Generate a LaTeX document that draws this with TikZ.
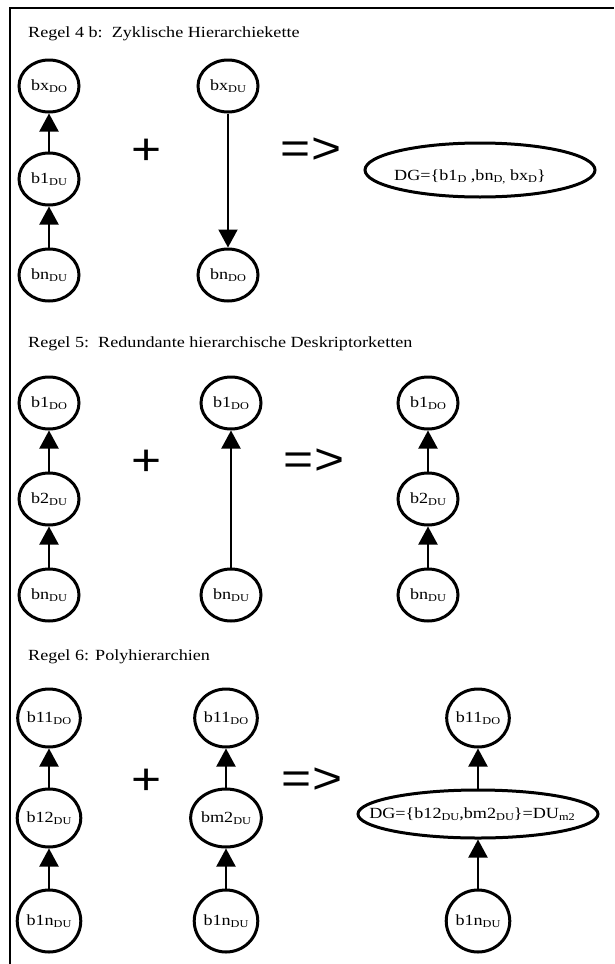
\documentclass[tikz,border=0pt]{standalone}
\usepackage{fontspec}
\setmainfont{Liberation Serif}[FakeStretch=1.17]
\newfontfamily\arialf{Liberation Sans}[FakeStretch=1.17]
\usetikzlibrary{arrows.meta,shapes.geometric}
\newcommand{\sbx}[1]{\raisebox{-2.5pt}{\fontsize{10.5}{10.5}\selectfont #1}}
\begin{document}
\begin{tikzpicture}[x=1pt,y=-1pt,
  nd/.style={draw, ellipse, line width=3pt, minimum width=60pt, minimum height=52pt, inner sep=0pt, font=\fontsize{15.5}{15.5}\selectfont},
  ndb/.style={nd, minimum width=58pt, minimum height=58pt},
  ndt/.style={nd, minimum width=58pt, minimum height=62pt},
  ell/.style={draw, ellipse, line width=3pt, inner sep=0pt},
  etxt/.style={inner sep=0pt, font=\fontsize{15.5}{15.5}\selectfont},
  arr/.style={line width=2pt, -{Triangle[length=18pt,width=19pt]}},
  sym/.style={font=\arialf\fontsize{44}{44}\selectfont, inner sep=0pt},
  ttl/.style={anchor=base west, inner sep=0pt, font=\fontsize{15.5}{15.5}\selectfont}]
\useasboundingbox (0,0) rectangle (614,964);
\draw[line width=2.5pt] (10,964) -- (10,8) -- (614,8);

% Regel 4b
\node[ttl] (t1) at (28,37) {Regel 4 b:\ \ Zyklische Hierarchiekette};
\node[nd] (a1) at (49,86) {bx\sbx{DO}};
\node[nd] (a2) at (49,179) {b1\sbx{DU}};
\node[nd] (a3) at (49,275) {bn\sbx{DU}};
\node[nd] (a4) at (228,86) {bx\sbx{DU}};
\node[nd] (a5) at (228,275) {bn\sbx{DO}};
\node[sym] (p1) at (147,152) {+};
\node[sym] (i1) at (311,151) {=>};
\node[ell, minimum width=230pt, minimum height=54pt] (e1) at (480,170) {};
\node[etxt] (e1t) at (470,177) {DG=\{b1\sbx{D} ,bn\sbx{D,} bx\sbx{D}\}};
\draw[arr] (a2) -- (a1);
\draw[arr] (a3) -- (a2);
\draw[arr] (a4) -- (a5);

% Regel 5
\node[ttl] (t2) at (28,347) {Regel 5:\ \ Redundante hierarchische Deskriptorketten};
\node[nd] (b1) at (49,403) {b1\sbx{DO}};
\node[nd] (b2) at (49,499) {b2\sbx{DU}};
\node[nd] (b3) at (49,595) {bn\sbx{DU}};
\node[nd] (b4) at (231,403) {b1\sbx{DO}};
\node[nd] (b5) at (231,595) {bn\sbx{DU}};
\node[sym] (p2) at (147,463) {+};
\node[sym] (i2) at (314,462) {=>};
\node[nd] (b6) at (428,403) {b1\sbx{DO}};
\node[nd] (b7) at (428,499) {b2\sbx{DU}};
\node[nd] (b8) at (428,595) {bn\sbx{DU}};
\draw[arr] (b2) -- (b1);
\draw[arr] (b3) -- (b2);
\draw[arr] (b5) -- (b4);
\draw[arr] (b7) -- (b6);
\draw[arr] (b8) -- (b7);

% Regel 6
\node[ttl] (t3) at (28,660) {Regel 6: Polyhierarchien};
\node[ndb] (c1) at (49,718) {b11\sbx{DO}};
\node[ndb] (c2) at (49,818) {b12\sbx{DU}};
\node[ndt] (c3) at (49,921) {b1n\sbx{DU}};
\node[ndb] (c4) at (226,718) {b11\sbx{DO}};
\node[ndb] (c5) at (226,818) {bm2\sbx{DU}};
\node[ndt] (c6) at (226,921) {b1n\sbx{DU}};
\node[sym] (p3) at (147,782) {+};
\node[sym] (i3) at (312,781) {=>};
\node[ndb] (c7) at (478,718) {b11\sbx{DO}};
\node[ell, minimum width=240pt, minimum height=48pt] (e2) at (478,814) {};
\node[etxt] (e2t) at (472,814) {DG=\{b12\sbx{DU},bm2\sbx{DU}\}=DU\sbx{m2}};
\node[ndt] (c8) at (478,921) {b1n\sbx{DU}};
\draw[arr] (c2) -- (c1);
\draw[arr] (c3) -- (c2);
\draw[arr] (c5) -- (c4);
\draw[arr] (c6) -- (c5);
\draw[arr] (e2) -- (c7);
\draw[arr] (c8) -- (e2);
\end{tikzpicture}
\end{document}
